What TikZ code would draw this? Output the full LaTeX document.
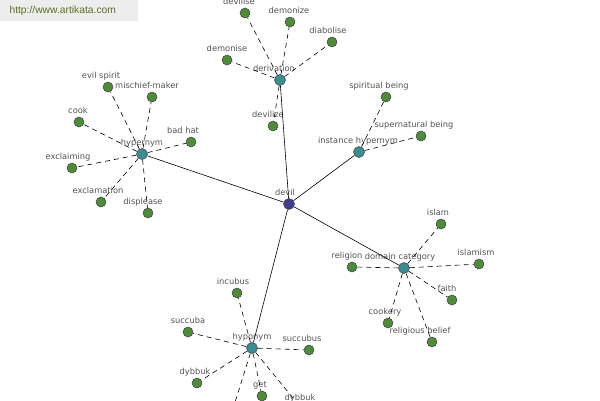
\documentclass[tikz,border=0pt]{standalone}
\usepackage{fontspec}
\setmainfont{DejaVu Sans}
\newfontfamily\sitefont{Liberation Sans}
\definecolor{leafgreen}{rgb}{0.31, 0.54, 0.24}
\definecolor{hubteal}{rgb}{0.24, 0.55, 0.57}
\definecolor{rootblue}{rgb}{0.24, 0.24, 0.55}
\definecolor{labelgray}{rgb}{0.32, 0.32, 0.32}
\definecolor{siteolive}{rgb}{0.36, 0.44, 0.14}
\definecolor{sitegray}{rgb}{0.93, 0.93, 0.93}

\begin{document}
\begin{tikzpicture}[x=1pt, y=-1pt,
  every label/.style={font=\fontsize{8.3}{9}\selectfont, text=labelgray,
    inner sep=1pt, text height=6pt, text depth=1.5pt, label distance=0.5pt},
  leaf/.style={circle, draw=black!75, fill=leafgreen, minimum size=10pt,
    inner sep=0pt, line width=0.5pt},
  hub/.style={leaf, fill=hubteal, minimum size=11pt},
  root/.style={leaf, fill=rootblue, minimum size=11pt},
  link/.style={line width=0.6pt},
  rel/.style={line width=0.6pt, dash pattern=on 5pt off 4pt}]
  \useasboundingbox (0,0) rectangle (600,400);
  \clip (0,0) rectangle (600,400);

  % Site banner
  \fill[sitegray] (0,0) rectangle (138,21);
  \node[font=\sitefont\fontsize{10.3}{12}\selectfont, text=siteolive, anchor=west]
    (site) at (6,11) {http://www.artikata.com};

  % Root and relations
  \node[root, label={[xshift=-4pt]above:devil}] (devil) at (289,204) {};
  \node[hub, label=above:hypernym] (hyper) at (142,154) {};
  \node[hub, label={[xshift=-6pt]above:derivation}] (deriv) at (280,80) {};
  \node[hub, label={[xshift=-1pt]above:instance hypernym}] (inst) at (359,152) {};
  \node[hub, label={[xshift=-4pt]above:domain category}] (domain) at (404,268) {};
  \node[hub, label=above:hyponym] (hypo) at (252,348) {};

  % Hypernym words
  \node[leaf, label={[xshift=-7pt]above:evil spirit}] (evilspirit) at (108,87) {};
  \node[leaf, label={[xshift=-5pt]above:mischief-maker}] (mischief) at (152,97) {};
  \node[leaf, label={[xshift=-1pt]above:cook}] (cook) at (79,122) {};
  \node[leaf, label={[xshift=-8pt]above:bad hat}] (badhat) at (191,142) {};
  \node[leaf, label={[xshift=-4pt]above:exclaiming}] (exclaiming) at (72,168) {};
  \node[leaf, label={[xshift=-3pt]above:exclamation}] (exclamation) at (101,202) {};
  \node[leaf, label={[xshift=-5pt]above:displease}] (displease) at (148,213) {};

  % Derivation words
  \node[leaf, label={[xshift=-6pt]above:devilise}] (devilise) at (245,13) {};
  \node[leaf, label={[xshift=-1pt]above:demonize}] (demonize) at (290,22) {};
  \node[leaf, label={[xshift=-4pt]above:diabolise}] (diabolise) at (332,42) {};
  \node[leaf, label=above:demonise] (demonise) at (227,60) {};
  \node[leaf, label={[xshift=-5pt]above:devilize}] (devilize) at (273,126) {};

  % Instance hypernym words
  \node[leaf, label={[xshift=-7pt]above:spiritual being}] (spiritual) at (386,97) {};
  \node[leaf, label={[xshift=-7pt]above:supernatural being}] (supernatural) at (421,136) {};

  % Domain category words
  \node[leaf, label={[xshift=-3pt]above:islam}] (islam) at (441,224) {};
  \node[leaf, label={[xshift=-5pt]above:religion}] (religion) at (352,267) {};
  \node[leaf, label={[xshift=-3pt]above:islamism}] (islamism) at (479,264) {};
  \node[leaf, label={[xshift=-5pt]above:faith}] (faith) at (452,300) {};
  \node[leaf, label={[xshift=-3pt]above:cookery}] (cookery) at (388,323) {};
  \node[leaf, label={[xshift=-12pt]above:religious belief}] (belief) at (432,342) {};

  % Hyponym words
  \node[leaf, label={[xshift=-4pt]above:incubus}] (incubus) at (237,293) {};
  \node[leaf, label=above:succuba] (succuba) at (188,332) {};
  \node[leaf, label={[xshift=-7pt]above:succubus}] (succubus) at (309,350) {};
  \node[leaf, label={[xshift=-2pt]above:dybbuk}] (dybbukleft) at (197,383) {};
  \node[leaf, label={[xshift=-2pt]above:get}] (get) at (262,396) {};
  \node[leaf, label={[xshift=-2pt]above:dybbuk}] (dybbukright) at (302,409) {};
  \coordinate (hypoout) at (232,412);

  % Links
  \draw[link] (devil) -- (hyper);
  \draw[link] (devil) -- (deriv);
  \draw[link] (devil) -- (inst);
  \draw[link] (devil) -- (domain);
  \draw[link] (devil) -- (hypo);

  \draw[rel] (hyper) -- (evilspirit);
  \draw[rel] (hyper) -- (mischief);
  \draw[rel] (hyper) -- (cook);
  \draw[rel] (hyper) -- (badhat);
  \draw[rel] (hyper) -- (exclaiming);
  \draw[rel] (hyper) -- (exclamation);
  \draw[rel] (hyper) -- (displease);

  \draw[rel] (deriv) -- (devilise);
  \draw[rel] (deriv) -- (demonize);
  \draw[rel] (deriv) -- (diabolise);
  \draw[rel] (deriv) -- (demonise);
  \draw[rel] (deriv) -- (devilize);

  \draw[rel] (inst) -- (spiritual);
  \draw[rel] (inst) -- (supernatural);

  \draw[rel] (domain) -- (islam);
  \draw[rel] (domain) -- (religion);
  \draw[rel] (domain) -- (islamism);
  \draw[rel] (domain) -- (faith);
  \draw[rel] (domain) -- (cookery);
  \draw[rel] (domain) -- (belief);

  \draw[rel] (hypo) -- (incubus);
  \draw[rel] (hypo) -- (succuba);
  \draw[rel] (hypo) -- (succubus);
  \draw[rel] (hypo) -- (dybbukleft);
  \draw[rel] (hypo) -- (get);
  \draw[rel] (hypo) -- (dybbukright);
  \draw[rel] (hypo) -- (hypoout);
\end{tikzpicture}
\end{document}
